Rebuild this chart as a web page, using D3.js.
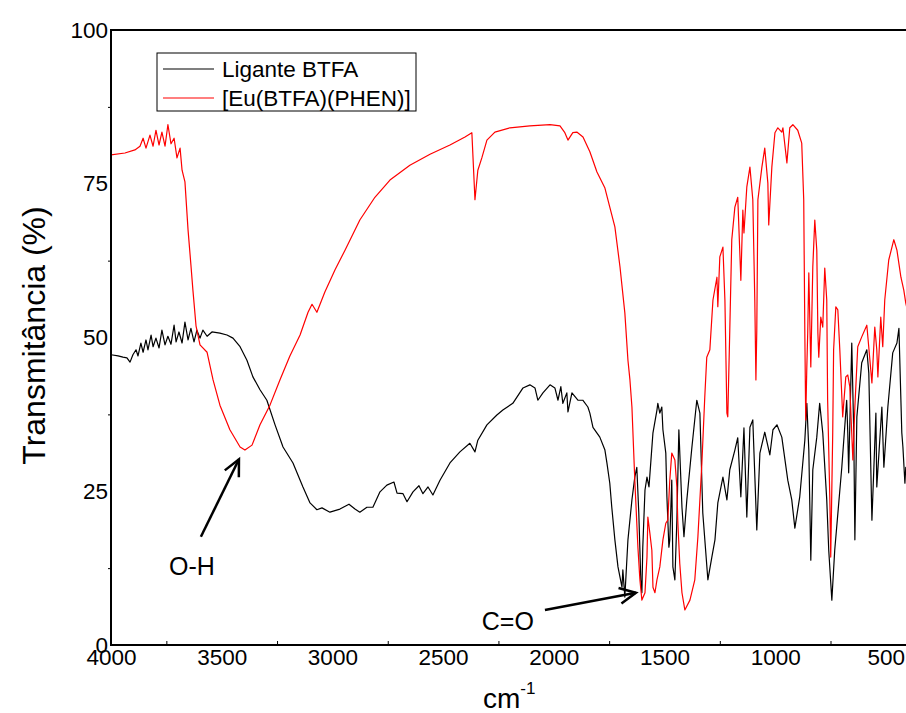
<!DOCTYPE html>
<html>
<head>
<meta charset="utf-8">
<script src="https://cdn.jsdelivr.net/npm/d3@7"></script>
<style>
  body { margin: 0; background: #fff; }
  svg { display: block; font-family: "Liberation Sans", Arial, sans-serif; }
</style>
</head>
<body>
<div id="chart"></div>
<script>
// IR spectra, wavenumber (cm-1) vs transmittance (%)
const seriesNames = ['Ligante BTFA', '[Eu(BTFA)(PHEN)]'];
const seriesColors = ['#000000', '#ff0000'];

const xTicks = [4000, 3500, 3000, 2500, 2000, 1500, 1000, 500];
const yTicks = [0, 25, 50, 75, 100];

// Ligante BTFA
const ligandData = [
  [4000, 47.2], [3968, 47.0], [3946, 46.8], [3928, 46.7], [3914, 46.0], [3901, 47.2],
  [3887, 48.0], [3878, 47.0], [3865, 49.1], [3855, 47.6], [3842, 49.6], [3833, 48.0],
  [3819, 50.4], [3810, 48.5], [3797, 49.9], [3783, 48.3], [3770, 51.2], [3756, 48.8],
  [3743, 50.2], [3729, 48.9], [3715, 52.0], [3706, 49.3], [3693, 50.9], [3679, 49.1],
  [3666, 52.5], [3652, 49.6], [3639, 51.5], [3625, 49.3], [3612, 51.2], [3598, 49.9],
  [3585, 51.2], [3566, 50.2], [3544, 50.9], [3508, 50.7], [3476, 50.4], [3449, 49.9],
  [3417, 48.5], [3386, 46.3], [3359, 43.6], [3327, 41.5], [3296, 39.8], [3259, 35.8],
  [3223, 32.2], [3178, 29.6], [3133, 25.7], [3101, 23.1], [3070, 22.0], [3047, 22.3],
  [3011, 21.6], [2966, 22.1], [2925, 22.9], [2898, 22.1], [2876, 21.6], [2844, 22.4],
  [2817, 22.4], [2785, 24.9], [2754, 26.0], [2722, 26.5], [2708, 24.7], [2681, 24.6],
  [2663, 23.3], [2636, 24.9], [2609, 25.9], [2591, 24.6], [2568, 25.7], [2546, 24.4],
  [2514, 26.8], [2469, 29.6], [2424, 31.4], [2379, 32.8], [2356, 31.4], [2343, 33.3],
  [2302, 35.8], [2257, 37.4], [2230, 38.2], [2185, 39.3], [2139, 41.8], [2108, 42.3],
  [2085, 41.8], [2072, 39.8], [2049, 41.0], [2017, 42.3], [1995, 41.8], [1981, 39.8],
  [1968, 42.0], [1959, 39.3], [1941, 41.0], [1936, 37.9], [1918, 41.0], [1891, 39.8],
  [1869, 39.8], [1846, 38.7], [1837, 37.7], [1823, 35.4], [1792, 33.8], [1769, 31.7],
  [1760, 29.6], [1747, 26.3], [1738, 22.4], [1724, 17.1], [1710, 12.7], [1692, 9.4],
  [1688, 12.2], [1679, 7.8], [1665, 17.1], [1647, 23.6], [1634, 27.3], [1625, 28.9],
  [1616, 21.5], [1607, 10.6], [1602, 8.5], [1598, 15.9], [1588, 25.2], [1579, 27.3],
  [1570, 25.7], [1561, 30.1], [1552, 34.5], [1534, 38.2], [1530, 39.3], [1521, 37.7],
  [1512, 38.7], [1507, 35.0], [1494, 31.2], [1489, 24.1], [1480, 15.9], [1476, 17.1],
  [1467, 26.8], [1462, 12.7], [1453, 10.6], [1444, 20.3], [1435, 35.0], [1421, 22.4],
  [1412, 17.6], [1399, 23.6], [1376, 32.2], [1354, 39.8], [1340, 37.7], [1327, 21.5],
  [1304, 10.6], [1286, 14.3], [1272, 17.1], [1259, 23.1], [1236, 27.3], [1218, 23.6],
  [1205, 28.5], [1182, 31.7], [1169, 33.7], [1155, 24.1], [1141, 35.3], [1128, 20.8],
  [1114, 35.4], [1101, 36.6], [1083, 18.7], [1069, 31.2], [1047, 34.6], [1024, 30.9],
  [1010, 35.0], [992, 35.8], [970, 33.8], [943, 26.8], [925, 23.6], [911, 19.0],
  [889, 24.1], [866, 33.3], [857, 39.3], [848, 31.7], [839, 13.8], [830, 28.5],
  [812, 33.8], [799, 39.3], [785, 34.5], [767, 23.6], [758, 15.4], [744, 7.3],
  [731, 15.4], [699, 28.9], [677, 39.8], [672, 34.5], [668, 28.0], [654, 49.1],
  [645, 34.5], [640, 17.1], [631, 37.1], [609, 45.9], [586, 48.0], [577, 44.2],
  [563, 20.3], [545, 37.7], [541, 25.7], [518, 38.7], [509, 28.9], [491, 38.7],
  [469, 47.5], [450, 49.1], [441, 51.5], [428, 34.5], [423, 32.2], [414, 26.3],
  [410, 28.9], [400, 27.0]
];

// [Eu(BTFA)(PHEN)]
const complexData = [
  [4000, 79.7], [3937, 80.0], [3892, 80.5], [3869, 81.1], [3855, 82.4], [3842, 80.8],
  [3824, 82.9], [3810, 81.1], [3797, 83.7], [3783, 81.3], [3770, 83.4], [3756, 81.1],
  [3743, 84.6], [3729, 81.5], [3715, 82.4], [3702, 79.2], [3688, 80.8], [3679, 77.2],
  [3666, 75.3], [3652, 67.5], [3639, 61.8], [3630, 57.7], [3616, 51.9], [3598, 48.8],
  [3566, 47.6], [3539, 43.1], [3508, 39.0], [3463, 35.0], [3417, 32.2], [3395, 31.7],
  [3363, 32.5], [3327, 35.8], [3282, 39.0], [3237, 43.1], [3192, 47.0], [3146, 50.4],
  [3110, 54.1], [3092, 55.4], [3070, 54.1], [3034, 57.4], [2988, 61.0], [2943, 64.2],
  [2876, 69.1], [2808, 72.8], [2740, 75.6], [2650, 78.0], [2559, 79.8], [2469, 81.3],
  [2401, 82.6], [2370, 83.3], [2356, 72.4], [2343, 77.2], [2325, 79.2], [2302, 82.1],
  [2266, 83.4], [2198, 84.1], [2108, 84.4], [2017, 84.6], [1972, 84.4], [1950, 83.3],
  [1936, 82.1], [1914, 83.3], [1896, 83.4], [1868, 82.6], [1837, 80.2], [1805, 76.9],
  [1769, 74.3], [1747, 71.2], [1724, 68.0], [1701, 61.5], [1679, 54.0], [1665, 46.3],
  [1656, 43.1], [1647, 38.7], [1634, 26.8], [1620, 15.9], [1611, 10.6], [1602, 7.3],
  [1588, 8.5], [1579, 14.3], [1575, 20.8], [1566, 18.2], [1557, 15.4], [1552, 9.4],
  [1543, 8.5], [1534, 10.6], [1521, 12.7], [1507, 17.1], [1494, 19.8], [1485, 20.3],
  [1476, 26.8], [1467, 31.2], [1453, 30.1], [1444, 25.7], [1440, 20.3], [1431, 13.3],
  [1421, 8.5], [1408, 5.7], [1385, 7.3], [1363, 10.6], [1349, 17.6], [1331, 29.6],
  [1318, 40.3], [1309, 46.8], [1295, 48.0], [1281, 56.1], [1263, 59.8], [1259, 55.0],
  [1250, 63.1], [1236, 64.7], [1227, 56.1], [1218, 37.7], [1214, 37.1], [1205, 51.2],
  [1196, 65.9], [1182, 71.2], [1169, 72.8], [1155, 59.3], [1146, 70.7], [1141, 67.0],
  [1128, 74.5], [1114, 77.7], [1101, 72.4], [1092, 56.1], [1087, 43.1], [1083, 51.2],
  [1078, 72.4], [1060, 77.7], [1047, 80.8], [1033, 75.1], [1029, 68.3], [1015, 77.7],
  [1001, 83.3], [988, 84.1], [970, 83.4], [965, 84.1], [947, 78.4], [934, 84.1],
  [920, 84.6], [898, 83.7], [880, 81.6], [871, 72.4], [866, 50.7], [862, 36.6],
  [857, 45.2], [853, 50.7], [848, 60.5], [839, 45.2], [830, 61.5], [821, 69.1],
  [812, 64.2], [807, 50.7], [803, 46.8], [794, 53.3], [785, 51.7], [776, 61.3],
  [767, 56.1], [763, 39.8], [753, 23.6], [749, 14.3], [740, 34.5], [736, 48.0],
  [726, 55.0], [717, 54.5], [708, 48.0], [695, 37.1], [681, 43.6], [672, 43.9],
  [663, 42.0], [649, 30.1], [640, 38.7], [627, 48.5], [609, 50.1], [586, 52.0],
  [572, 46.3], [563, 42.6], [550, 51.7], [541, 48.0], [536, 43.6], [523, 53.3],
  [514, 48.5], [505, 56.1], [487, 62.6], [464, 65.9], [450, 64.2], [432, 59.8],
  [419, 57.7], [410, 55.6], [400, 54.0]
];

// annotation arrows: tip and tail in data units, label position in data units
const annotations = [
  { text: 'O-H', tip: [3422, 30.2], tail: [3594, 17.6], label: [3738, 11.4] },
  { text: 'C=O', tip: [1629, 8.5], tail: [2040, 5.7], label: [2325, 2.4] }
];

const width = 906;
const height = 713;
const margin = { top: 30, right: -2, bottom: 68, left: 111 };

const svg = d3.select('#chart')
  .append('svg')
  .attr('width', width)
  .attr('height', height);

const x = d3.scaleLinear()
  .domain([4000, 400])
  .range([margin.left, width - margin.right]);

const y = d3.scaleLinear()
  .domain([0, 100])
  .range([height - margin.bottom, margin.top]);

svg.append('defs').append('clipPath')
  .attr('id', 'plot-clip')
  .append('rect')
  .attr('x', x(4000))
  .attr('y', y(100))
  .attr('width', x(400) - x(4000))
  .attr('height', y(0) - y(100));

const line = d3.line()
  .x(d => x(d[0]))
  .y(d => y(d[1]));

const plot = svg.append('g').attr('clip-path', 'url(#plot-clip)');

[ligandData, complexData].forEach((data, i) => {
  plot.append('path')
    .datum(data)
    .attr('fill', 'none')
    .attr('stroke', seriesColors[i])
    .attr('stroke-width', 1.2)
    .attr('stroke-linejoin', 'round')
    .attr('d', line);
});

// frame
svg.append('rect')
  .attr('x', x(4000))
  .attr('y', y(100))
  .attr('width', x(400) - x(4000))
  .attr('height', y(0) - y(100))
  .attr('fill', 'none')
  .attr('stroke', '#000')
  .attr('stroke-width', 2);

// axes
const xMinor = d3.range(3750, 400, -500);
const yMinor = d3.range(12.5, 100, 25);

const xAxis = svg.append('g')
  .attr('transform', `translate(0,${y(0)})`)
  .call(d3.axisBottom(x).tickValues(xTicks).tickSize(0).tickPadding(4).tickFormat(d3.format('d')));

svg.append('g')
  .attr('transform', `translate(0,${y(0)})`)
  .call(d3.axisBottom(x).tickValues(xMinor).tickSize(-4).tickFormat(''));

const yAxis = svg.append('g')
  .attr('transform', `translate(${x(4000)},0)`)
  .call(d3.axisLeft(y).tickValues(yTicks).tickSize(0).tickPadding(3).tickFormat(d3.format('d')));

svg.append('g')
  .attr('transform', `translate(${x(4000)},0)`)
  .call(d3.axisLeft(y).tickValues(yMinor).tickSize(3).tickFormat(''));

svg.selectAll('.domain').remove();
svg.selectAll('.tick line').attr('stroke', '#000').attr('stroke-width', 1);
[xAxis, yAxis].forEach(a => a.selectAll('text')
  .attr('font-size', 22.5)
  .attr('font-family', '"Liberation Sans", Arial, sans-serif')
  .attr('fill', '#000'));

// axis titles
svg.append('text')
  .attr('transform', `translate(45,${(y(0) + y(100)) / 2 - 2}) rotate(-90)`)
  .attr('text-anchor', 'middle')
  .attr('font-size', 32)
  .text('Transmitância (%)');

const xTitle = svg.append('text')
  .attr('x', 483)
  .attr('y', 708)
  .attr('font-size', 28);
xTitle.append('tspan').text('cm');
xTitle.append('tspan')
  .attr('dy', -14)
  .attr('font-size', 17)
  .text('-1');

// legend
const legend = svg.append('g').attr('transform', 'translate(157,53)');
legend.append('rect')
  .attr('width', 259)
  .attr('height', 58)
  .attr('fill', '#fff')
  .attr('stroke', '#000')
  .attr('stroke-width', 1);
seriesNames.forEach((name, i) => {
  const ly = 16 + i * 29;
  legend.append('line')
    .attr('x1', 6).attr('x2', 57)
    .attr('y1', ly).attr('y2', ly)
    .attr('stroke', seriesColors[i])
    .attr('stroke-width', 1.2);
  legend.append('text')
    .attr('x', 65)
    .attr('y', ly + 8)
    .attr('font-size', 22.5)
    .text(name);
});

// annotations with open arrowheads
const arrowHead = (tip, tail, len, spread) => {
  const ang = Math.atan2(tail[1] - tip[1], tail[0] - tip[0]);
  const a1 = [tip[0] + len * Math.cos(ang + spread), tip[1] + len * Math.sin(ang + spread)];
  const a2 = [tip[0] + len * Math.cos(ang - spread), tip[1] + len * Math.sin(ang - spread)];
  return `M${a1}L${tip}L${a2}`;
};

annotations.forEach(a => {
  const tip = [x(a.tip[0]), y(a.tip[1])];
  const tail = [x(a.tail[0]), y(a.tail[1])];
  svg.append('line')
    .attr('x1', tail[0]).attr('y1', tail[1])
    .attr('x2', tip[0]).attr('y2', tip[1])
    .attr('stroke', '#000')
    .attr('stroke-width', 2.5);
  svg.append('path')
    .attr('d', arrowHead(tip, tail, 18, 0.45))
    .attr('fill', 'none')
    .attr('stroke', '#000')
    .attr('stroke-width', 2.5);
  svg.append('text')
    .attr('x', x(a.label[0]))
    .attr('y', y(a.label[1]))
    .attr('font-size', 25)
    .text(a.text);
});
</script>
</body>
</html>
